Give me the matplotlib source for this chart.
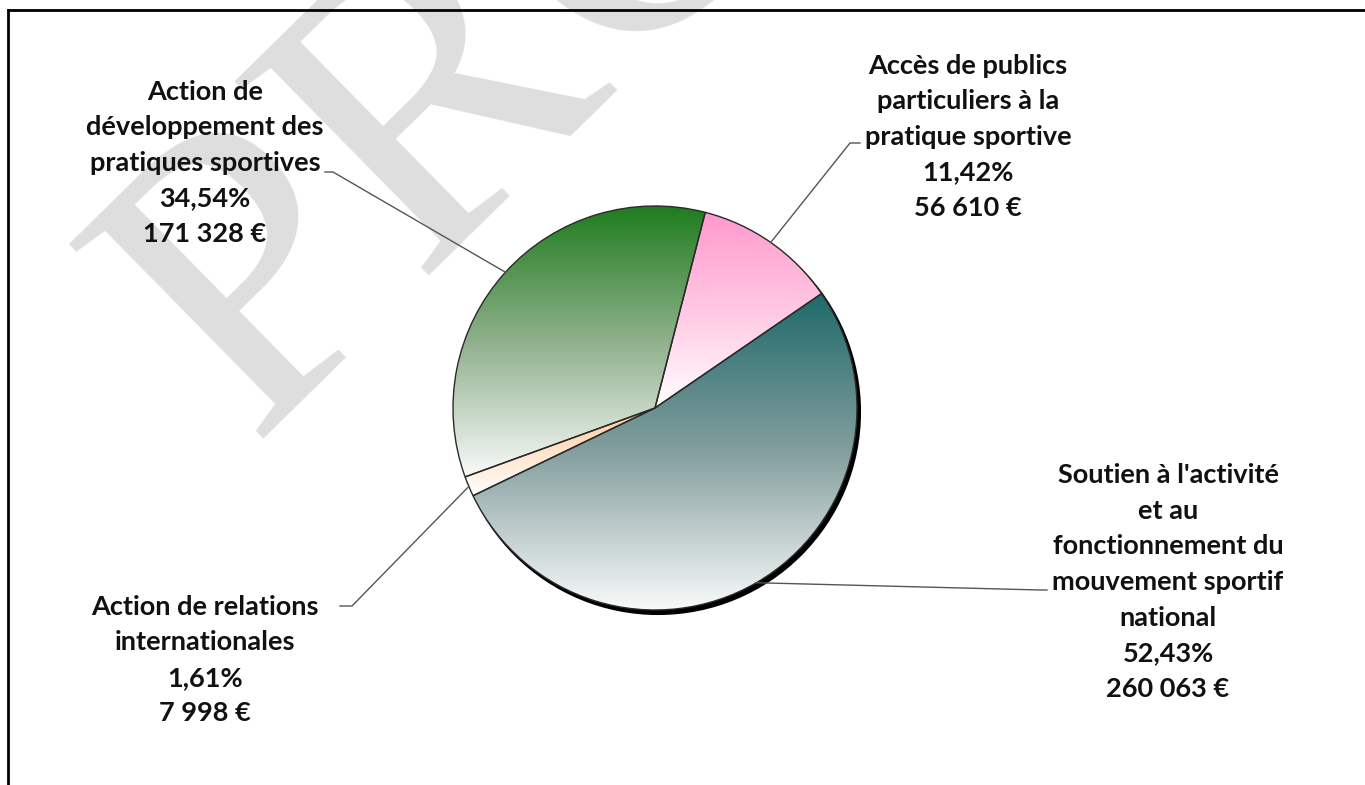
import numpy as np
import matplotlib
matplotlib.use("Agg")
import matplotlib.pyplot as plt
from matplotlib.colors import to_rgb
from matplotlib.patches import Circle
from matplotlib.lines import Line2D

# data (clockwise from the top)
categories = [
    "Accès de publics\nparticuliers à la\npratique sportive",
    "Soutien à l'activité\net au\nfonctionnement du\nmouvement sportif\nnational",
    "Action de relations\ninternationales",
    "Action de\ndéveloppement des\npratiques sportives",
]
percents = [11.42, 52.43, 1.61, 34.54]
amounts = [56610, 260063, 7998, 171328]

# gradient stops per slice: top, middle, bottom
grad_stops = [
    ("#ff99cc", "#ffc8e3", "#ffffff"),
    ("#1f6a6a", "#849e9e", "#f9fafa"),
    ("#ffc896", "#ffe4cc", "#ffffff"),
    ("#1e7d1e", "#8fb08c", "#f9faf9"),
]

W, H = 1365, 785
fig = plt.figure(figsize=(W / 100, H / 100), dpi=100)
fig.patch.set_facecolor("white")

ax = fig.add_axes([0, 0, 1, 1])
ax.set_aspect("equal")

# watermark
ax.text(250, H - 440, "PROJET", rotation=44.5, rotation_mode="anchor",
        ha="left", va="baseline", fontsize=302, color="#dedede",
        family="Liberation Serif", zorder=0)

cx, cy, r = 655, H - 408, 202
start = 75.6

ax.add_patch(Circle((cx + 3, cy - 4), r, facecolor="black", edgecolor="black",
                    lw=1.5, zorder=1))

wedges, _ = ax.pie(percents, center=(cx, cy), radius=r, startangle=start,
                   counterclock=False, frame=True,
                   wedgeprops=dict(facecolor="none", edgecolor="#2a2a2a",
                                   linewidth=1.0, zorder=3))

for w, stops in zip(wedges, grad_stops):
    bb = w.get_path().get_extents()
    c0, c1, c2 = [np.array(to_rgb(s)) for s in stops]
    t = np.linspace(0, 1, 256)[:, None]
    grad = np.where(t < 0.5, c0 * (1 - 2 * t) + c1 * 2 * t,
                    c1 * (2 - 2 * t) + c2 * (2 * t - 1))
    img = np.repeat(grad[:, None, :], 2, axis=1)
    im = ax.imshow(img, extent=(bb.x0, bb.x1, bb.y0, bb.y1), origin="upper",
                   aspect="auto", zorder=2, interpolation="bilinear")
    im.set_clip_path(w)

ax.set_xlim(0, W)
ax.set_ylim(0, H)
ax.axis("off")

# labels
text_pos = [(968, 137), (1168, 582), (205, 660), (205, 163)]
elbows = [[(850, 143), (860, 143)], [(1040, 590), (1047, 590)],
          [(352, 606), (340, 606)], [(333, 172), (325, 172)]]

ang = start
for cat, p, a, (tx, ty), el in zip(categories, percents, amounts, text_pos, elbows):
    mid = np.deg2rad(ang - p * 3.6 / 2)
    ang -= p * 3.6
    ex, ey = cx + r * np.cos(mid), cy + r * np.sin(mid)
    amt = f"{a:,}".replace(",", " ")
    txt = f"{cat}\n{p:.2f}%\n{amt} €".replace(".", ",")
    ax.text(tx, H - ty, txt, ha="center", va="center", fontsize=19.5,
            fontweight="bold", family="Lato", color="#111111",
            linespacing=1.58, zorder=5)
    xs = [ex, el[0][0], el[1][0]]
    ys = [ey, H - el[0][1], H - el[1][1]]
    ax.plot(xs, ys, color="#555555", lw=1.0, zorder=4)

# frame
fig.add_artist(Line2D([8 / W, 8 / W], [0, 1 - 10 / H], color="black", lw=2,
                      transform=fig.transFigure, zorder=10))
fig.add_artist(Line2D([8 / W, 1], [1 - 10 / H, 1 - 10 / H], color="black", lw=2,
                      transform=fig.transFigure, zorder=10))

fig.savefig("out.png", dpi=100)
